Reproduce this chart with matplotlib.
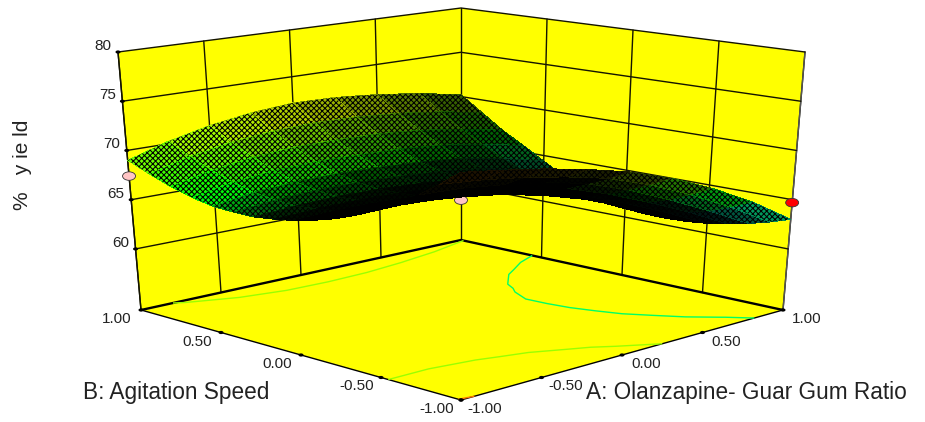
import numpy as np
import matplotlib
matplotlib.use('Agg')
import matplotlib.pyplot as plt
from matplotlib.collections import PolyCollection
from matplotlib.colors import LinearSegmentedColormap
from matplotlib.patches import Ellipse, Polygon

plt.rcParams['font.family'] = ['Liberation Sans', 'DejaVu Sans']
plt.rcParams['hatch.color'] = 'black'
plt.rcParams['hatch.linewidth'] = 0.75

# data
a_ticks = [-1.0, -0.5, 0.0, 0.5, 1.0]
b_ticks = [-1.0, -0.5, 0.0, 0.5, 1.0]
z_ticks = [60, 65, 70, 75, 80]
z_floor = 53.8
z_top = 80.0

a_grid = [-1.0, -0.75, -0.5, -0.25, 0.0, 0.25, 0.5, 0.75, 1.0]
b_grid = [-1.0, -0.875, -0.75, -0.625, -0.5, -0.375, -0.25, -0.125, 0.0,
          0.125, 0.25, 0.375, 0.5, 0.625, 0.75, 0.875, 1.0]
# % yield, one row per b_grid value
yield_table = [
    [74.8, 74.2, 73.5, 72.6, 71.5, 70.0, 68.1, 65.8, 63.0],
    [73.3, 72.9, 72.3, 71.5, 70.5, 69.0, 67.1, 64.9, 62.35],
    [71.9, 71.7, 71.2, 70.6, 69.6, 68.1, 66.2, 64.1, 61.8],
    [70.7, 70.6, 70.25, 69.7, 68.75, 67.3, 65.55, 63.6, 61.35],
    [69.6, 69.65, 69.4, 68.9, 68.0, 66.7, 65.0, 63.1, 61.0],
    [68.7, 68.8, 68.6, 68.15, 67.4, 66.25, 64.75, 62.9, 60.8],
    [67.9, 68.0, 67.9, 67.5, 66.9, 65.9, 64.6, 62.85, 60.7],
    [67.3, 67.4, 67.35, 67.1, 66.55, 65.75, 64.55, 62.9, 60.75],
    [66.8, 66.95, 66.9, 66.7, 66.3, 65.6, 64.6, 63.0, 60.9],
    [66.45, 66.65, 66.7, 66.6, 66.25, 65.75, 64.85, 63.4, 61.4],
    [66.2, 66.5, 66.6, 66.55, 66.3, 65.9, 65.2, 63.9, 62.0],
    [66.2, 66.6, 66.8, 66.8, 66.6, 66.3, 65.75, 64.65, 63.1],
    [66.3, 66.9, 67.2, 67.25, 67.1, 66.85, 66.4, 65.55, 64.4],
    [66.7, 67.45, 67.9, 68.05, 67.95, 67.8, 67.4, 66.7, 65.7],
    [67.3, 68.2, 68.8, 69.1, 69.1, 69.0, 68.6, 67.95, 67.0],
    [68.1, 69.15, 69.9, 70.35, 70.5, 70.4, 70.05, 69.45, 68.6],
    [69.0, 70.25, 71.2, 71.85, 72.2, 72.1, 71.7, 71.1, 70.2],
]
contour_levels = [65, 70, 74.6]

# design points sitting off the surface
point_a = [-1.0, 1.0, 1.0]
point_b = [1.0, 1.0, -1.0]
point_z = [67.4, 58.3, 64.7]
point_colors = ['#ffc4c4', '#ffc4c4', '#ff0000']
point_below = [False, True, False]

# box corners on the canvas, the picture has nearly even tick spacing so the
# box is mapped corner to corner rather than through a camera
floor_px = {(0, 0): (461, 400), (1, 0): (783, 310), (0, 1): (141, 310), (1, 1): (461, 240)}
top_px = {(0, 0): (461, 116), (1, 0): (805, 52), (0, 1): (118, 52), (1, 1): (461, 8)}


def bilinear(table, u, v, n):
    return (table[(0, 0)][n] * (1 - u) * (1 - v) + table[(1, 0)][n] * u * (1 - v)
            + table[(0, 1)][n] * (1 - u) * v + table[(1, 1)][n] * u * v)


def project(a, b, z):
    u = (np.asarray(a, float) + 1) / 2
    v = (np.asarray(b, float) + 1) / 2
    h = (np.asarray(z, float) - z_floor) / (z_top - z_floor)
    x = bilinear(floor_px, u, v, 0) * (1 - h) + bilinear(top_px, u, v, 0) * h
    y = bilinear(floor_px, u, v, 1) * (1 - h) + bilinear(top_px, u, v, 1) * h
    depth = u + v - 0.5 * h
    return x, y, depth


def line3d(ax, a, b, z, **kw):
    x, y, _ = project(a, b, z)
    ax.plot(x, y, solid_capstyle='round', **kw)


fig = plt.figure(figsize=(9.25, 4.22), dpi=100)
ax = fig.add_axes([0, 0, 1, 1])
ax.set_xlim(0, 925)
ax.set_ylim(422, 0)
ax.axis('off')

yellow = '#ffff00'
for face in ([(-1, 1, z_floor), (1, 1, z_floor), (1, 1, z_top), (-1, 1, z_top)],
             [(1, 1, z_floor), (1, -1, z_floor), (1, -1, z_top), (1, 1, z_top)],
             [(-1, -1, z_floor), (1, -1, z_floor), (1, 1, z_floor), (-1, 1, z_floor)]):
    fa, fb, fz = zip(*face)
    x, y, _ = project(fa, fb, fz)
    ax.add_patch(Polygon(np.c_[x, y], closed=True, fc=yellow, ec='none', zorder=1))

# wall grid
grid_kw = dict(color='#141400', lw=1.0, zorder=2)
for t in a_ticks[:-1]:
    line3d(ax, [t, t], [1, 1], [z_floor, z_top], **grid_kw)
for t in b_ticks[:-1]:
    line3d(ax, [1, 1], [t, t], [z_floor, z_top], **grid_kw)
line3d(ax, [1, 1], [1, 1], [z_floor, z_top], **grid_kw)
line3d(ax, [-1, -1], [1, 1], [z_floor, z_top], **grid_kw)
line3d(ax, [1, 1], [-1, -1], [z_floor, z_top], color='#555555', lw=1.0, zorder=2)
for t in z_ticks:
    line3d(ax, [-1, 1, 1], [1, 1, -1], [t, t, t], **grid_kw)

# floor outline, the rear edges are heavier
line3d(ax, [-1, 1, 1], [1, 1, -1], [z_floor] * 3, color='black', lw=1.7, zorder=3)
line3d(ax, [-1, -1, 1], [1, -1, -1], [z_floor] * 3, color='black', lw=1.0, zorder=3)

# colour map and floor contours
cmap = LinearSegmentedColormap.from_list('de', ['#0000ff', '#00ffff', '#00ff00', '#ffff00', '#ff0000'])
z_vals = np.array(yield_table)
z_lo, z_hi = 57.0, 77.0
A, B = np.meshgrid(a_grid, b_grid)
fx, fy, _ = project(A, B, np.full(A.shape, z_floor))
ax.contour(fx, fy, z_vals, levels=contour_levels, cmap=cmap, vmin=z_lo, vmax=z_hi,
           linewidths=1.0, zorder=3)

# surface, far cells first
sx, sy, sd = project(A, B, z_vals)
cells = []
for j in range(z_vals.shape[0] - 1):
    for i in range(z_vals.shape[1] - 1):
        idx = [(j, i), (j, i + 1), (j + 1, i + 1), (j + 1, i)]
        pts = np.array([(sx[k], sy[k]) for k in idx])
        px, py = pts[:, 0], pts[:, 1]
        area = 0.5 * abs(np.dot(px, np.roll(py, 1)) - np.dot(py, np.roll(px, 1)))
        depth = np.mean([sd[k] for k in idx])
        zmean = np.mean([z_vals[k] for k in idx])
        cells.append((depth, pts, zmean, area, px.mean()))
cells.sort(key=lambda c: -c[0])
polys = [c[1] for c in cells]
# squashed cells read as black in the picture because the mesh lines bunch up,
# and the mesh also gets denser toward the middle of the box
shade = np.clip((np.array([c[3] for c in cells]) - 220) / 420, 0, 1) ** 1.3
shade *= 0.35 + 0.65 * np.clip(np.abs(np.array([c[4] for c in cells]) - 461) / 250, 0, 1)
colors = cmap((np.array([c[2] for c in cells]) - z_lo) / (z_hi - z_lo))
colors[:, :3] *= shade[:, None]
ax.add_collection(PolyCollection(polys, facecolors=colors, edgecolors='none', linewidths=0,
                                 antialiaseds=False, hatch='xxxxxx', zorder=5))

# design points
for pa, pb, pz, pc, low in zip(point_a, point_b, point_z, point_colors, point_below):
    x, y, _ = project(pa, pb, pz)
    ax.add_patch(Ellipse((x, y), 13, 8.5, fc=pc, ec='#333333', lw=0.6,
                         zorder=4 if low else 6))


# tick dots and labels
def dot(x, y):
    ax.add_patch(Ellipse((x, y), 5, 3.2, fc='black', ec='none', zorder=6))


for t in b_ticks:
    x, y, _ = project(-1, t, z_floor)
    dot(x, y)
    ax.text(x - 24, y + 9, '%.2f' % t, fontsize=11, ha='center', va='center', color='#222222')
for t in a_ticks:
    x, y, _ = project(t, -1, z_floor)
    dot(x, y)
    ax.text(x + 24, y + 9, '%.2f' % t, fontsize=11, ha='center', va='center', color='#222222')
for t in z_ticks:
    x, y, _ = project(-1, 1, t)
    dot(x, y)
    ax.text(x - 15, y - 6, str(t), fontsize=11, ha='center', va='center', color='#222222')

ax.text(83, 393, 'B: Agitation Speed', fontsize=16.3, ha='left', va='center', color='#222222')
ax.text(586, 393, 'A: Olanzapine- Guar Gum Ratio', fontsize=16.3, ha='left', va='center', color='#222222')
ax.text(23, 165, '%   y ie ld', fontsize=15, rotation=90, ha='center', va='center', color='#222222')

fig.savefig('out.png', dpi=100)
